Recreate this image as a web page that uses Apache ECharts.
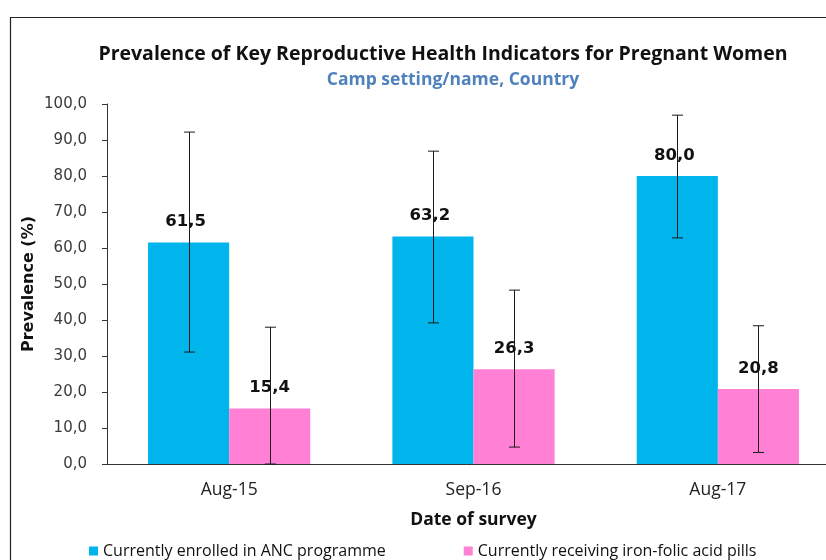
<!DOCTYPE html>
<html><head><meta charset="utf-8">
<script src="https://cdn.jsdelivr.net/npm/echarts@6/dist/echarts.min.js"></script>
<style>html,body{margin:0;padding:0;background:#fff;}#c{width:826px;height:560px;}</style>
</head><body><div id="c"></div>
<script>
const categories = ['Aug-15', 'Sep-16', 'Aug-17'];
const ancValues = [61.5, 63.2, 80.0];
const ifaValues = [15.4, 26.3, 20.8];
const ancLower = [31.1, 39.2, 62.8];
const ancUpper = [92.2, 86.9, 96.9];
const ifaLower = [0.0, 4.7, 3.2];
const ifaUpper = [38.0, 48.3, 38.4];
const seriesNames = ['Currently enrolled in ANC programme', 'Currently receiving iron-folic acid pills'];

const GAP = 0.336;
const calib = '"Open Sans", Lato, sans-serif';
const verd = '"DejaVu Sans", sans-serif';
const fmt = v => v.toFixed(1).replace('.', ',');

function errorSeries(lower, upper, sign) {
  return {
    type: 'custom', z: 10, silent: true,
    data: categories.map((c, i) => [i, lower[i], upper[i]]),
    encode: { x: 0, y: [1, 2] },
    renderItem(params, api) {
      const i = api.value(0);
      const lo = api.coord([i, api.value(1)]);
      const hi = api.coord([i, api.value(2)]);
      const band = api.size([1, 0])[0];
      const bw = band * (1 - GAP) / 2;
      const x = Math.round(lo[0] + sign * bw / 2) + 0.5;
      const cap = 5.5;
      const st = { stroke: '#1a1a1a', lineWidth: 1 };
      return { type: 'group', children: [
        { type: 'line', shape: { x1: x, y1: hi[1], x2: x, y2: lo[1] }, style: st },
        { type: 'line', shape: { x1: x - cap, y1: hi[1], x2: x + cap, y2: hi[1] }, style: st },
        { type: 'line', shape: { x1: x - cap, y1: lo[1], x2: x + cap, y2: lo[1] }, style: st }
      ]};
    }
  };
}

const chart = echarts.init(document.getElementById('c'), null, { renderer: 'canvas' });
chart.setOption({
  animation: false,
  backgroundColor: '#fff',
  graphic: [{ type: 'rect', shape: { x: 10.5, y: 17.5, width: 900, height: 700 }, style: { fill: 'none', stroke: '#222', lineWidth: 1.2 }, z: 0 }],
  title: [
    { text: 'Prevalence of Key Reproductive Health Indicators for Pregnant Women', left: 438, top: 39, textAlign: 'center',
      textStyle: { fontFamily: calib, fontWeight: 'bold', fontSize: 19.5, color: '#111' } },
    { text: 'Camp setting/name, Country', left: 448, top: 66, textAlign: 'center',
      textStyle: { fontFamily: calib, fontWeight: 'bold', fontSize: 17.5, color: '#4F81BD' } }
  ],
  legend: {
    left: 84, top: 538, itemWidth: 9, itemHeight: 9, itemGap: 78, icon: 'rect',
    textStyle: { fontFamily: calib, fontSize: 16, color: '#111' },
    data: seriesNames
  },
  grid: { left: 107, top: 104, width: 733, height: 360, containLabel: false, outerBoundsMode: 'none' },
  xAxis: {
    type: 'category', data: categories,
    axisLine: { lineStyle: { color: '#333', width: 1 } },
    axisTick: { show: false },
    axisLabel: { fontFamily: calib, fontSize: 17.5, color: '#222', margin: 17 },
    name: 'Date of survey', nameLocation: 'middle', nameGap: 47,
    nameTextStyle: { fontFamily: calib, fontWeight: 'bold', fontSize: 17.5, color: '#111' }
  },
  yAxis: {
    type: 'value', min: 0, max: 100, interval: 10,
    splitLine: { show: false },
    axisLine: { show: true, lineStyle: { color: '#333', width: 1 } },
    axisTick: { show: true, inside: false, length: 5, lineStyle: { color: '#333' } },
    axisLabel: { fontFamily: verd, fontSize: 15, color: '#3a3a3a', margin: 20, formatter: v => fmt(v) },
    name: 'Prevalence (%)', nameLocation: 'middle', nameGap: 70, nameRotate: 90, nameMoveOverlap: false,
    nameTextStyle: { fontFamily: verd, fontWeight: 'bold', fontSize: 16, color: '#111' }
  },
  series: [
    { name: seriesNames[0], type: 'bar', data: ancValues, barGap: '0%', barCategoryGap: (GAP * 100) + '%',
      itemStyle: { color: '#00B5EB' },
      label: { show: true, position: 'top', distance: 12, offset: [-3, 0], formatter: p => fmt(p.value),
        fontFamily: verd, fontWeight: 'bold', fontSize: 16.5, color: '#111' } },
    { name: seriesNames[1], type: 'bar', data: ifaValues, barGap: '0%', barCategoryGap: (GAP * 100) + '%',
      itemStyle: { color: '#FF80D5' },
      label: { show: true, position: 'top', distance: 12, formatter: p => fmt(p.value),
        fontFamily: verd, fontWeight: 'bold', fontSize: 16.5, color: '#111' } },
    errorSeries(ancLower, ancUpper, -1),
    errorSeries(ifaLower, ifaUpper, 1)
  ]
});
</script></body></html>
